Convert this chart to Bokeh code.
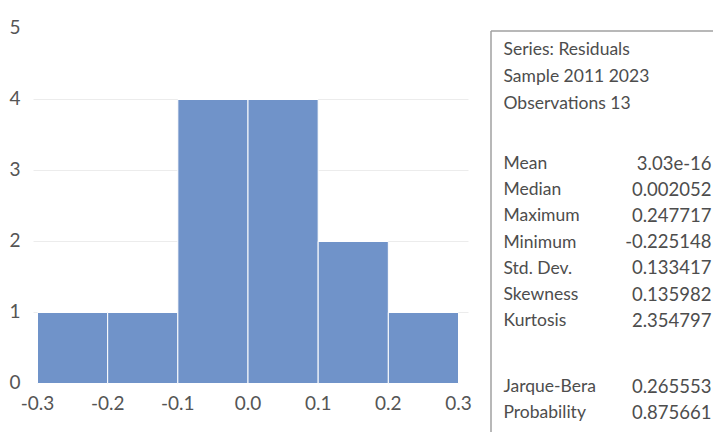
from bokeh.plotting import figure
from bokeh.models import Range1d
from bokeh.core.properties import value
from bokeh.embed import file_html
from bokeh.resources import INLINE

# ---- data ----
bin_left = [-0.3, -0.2, -0.1, 0.0, 0.1, 0.2]
bin_right = [-0.2, -0.1, 0.0, 0.1, 0.2, 0.3]
counts = [1, 1, 4, 4, 2, 1]
x_ticks = [-0.3, -0.2, -0.1, 0.0, 0.1, 0.2, 0.3]
y_ticks = [0, 1, 2, 3, 4, 5]
grid_levels = [1, 2, 3, 4]

header_lines = ["Series: Residuals", "Sample 2011 2023", "Observations 13"]
stat_names = ["Mean", "Median", "Maximum", "Minimum", "Std. Dev.", "Skewness", "Kurtosis"]
stat_values = ["3.03e-16", "0.002052", "0.247717", "-0.225148", "0.133417", "0.135982", "2.354797"]
test_names = ["Jarque-Bera", "Probability"]
test_values = ["0.265553", "0.875661"]

FONT = "Lato"
TXT = "#4d4d4d"
BAR = "#7093c9"

W, H = 713, 432
# pixel geometry of the histogram frame
PX_L, PX_R = 37, 458      # x = -0.3 and x = 0.3
PY_0, PX_PER_UNIT = 383, 71.0
sx = (PX_R - PX_L) / 0.6
x0 = -0.3 - PX_L / sx
x1 = x0 + W / sx
y_top = PY_0 / PX_PER_UNIT
y_bot = -(H - PY_0) / PX_PER_UNIT

p = figure(width=W, height=H, output_backend="svg", toolbar_location=None,
           x_range=Range1d(x0, x1), y_range=Range1d(y_bot, y_top),
           x_axis_location=None, y_axis_location=None, min_border=0)
p.outline_line_color = None
p.grid.visible = False
p.background_fill_color = "white"
p.border_fill_color = "white"
p.extra_x_ranges = {"px": Range1d(0, W)}
p.extra_y_ranges = {"px": Range1d(H, 0)}

# gridlines
g_left = -0.3 - 4 / sx
g_right = 0.3 + 10 / sx
p.segment(x0=[g_left] * len(grid_levels), x1=[g_right] * len(grid_levels),
          y0=grid_levels, y1=grid_levels, line_color="#ececec", line_width=1)

# bars
p.quad(left=bin_left, right=bin_right, top=counts, bottom=0,
       fill_color=BAR, line_color="white", line_width=1)

tick_style = dict(text_font=value(FONT), text_font_size=value("19px"),
                  text_color="#555555", text_baseline="middle")
# y tick labels
p.text(x=[-0.3] * len(y_ticks), y=y_ticks, text=[str(t) for t in y_ticks],
       x_offset=-17, y_offset=-2, text_align="right", **tick_style)
# x tick labels
p.text(x=x_ticks, y=[0] * len(x_ticks), text=[f"{t:.1f}" for t in x_ticks],
       y_offset=19, text_align="center", **tick_style)

# ---- statistics box (pixel coordinates) ----
box_left, box_top = 490.5, 30.5
p.line(x=[box_left, box_left], y=[H, box_top], line_color="#a0a0a0", line_width=1.5,
       x_range_name="px", y_range_name="px")
p.line(x=[box_left, W], y=[box_top, box_top], line_color="#a0a0a0", line_width=1.5,
       x_range_name="px", y_range_name="px")

label_x = 503
value_right = 711
hdr_y = [48 + 27 * i for i in range(len(header_lines))]
stat_y = [162 + 26.2 * i for i in range(len(stat_names))]
test_y = [385 + 26 * i for i in range(len(test_names))]

lab = dict(text_font=value(FONT), text_font_size=value("17.5px"),
           text_color=TXT, text_baseline="middle", text_align="left",
           x_range_name="px", y_range_name="px")
val = dict(text_font=value(FONT), text_font_size=value("18.5px"),
           text_color=TXT, text_baseline="middle", text_align="right",
           x_range_name="px", y_range_name="px")
p.text(x=[label_x] * len(header_lines), y=hdr_y, text=header_lines, **lab)
p.text(x=[label_x] * len(stat_names), y=stat_y, text=stat_names, **lab)
p.text(x=[value_right] * len(stat_values), y=stat_y, text=stat_values, **val)
p.text(x=[label_x] * len(test_names), y=test_y, text=test_names, **lab)
p.text(x=[value_right] * len(test_values), y=test_y, text=test_values, **val)

open("out.html", "w").write(file_html(p, INLINE))
